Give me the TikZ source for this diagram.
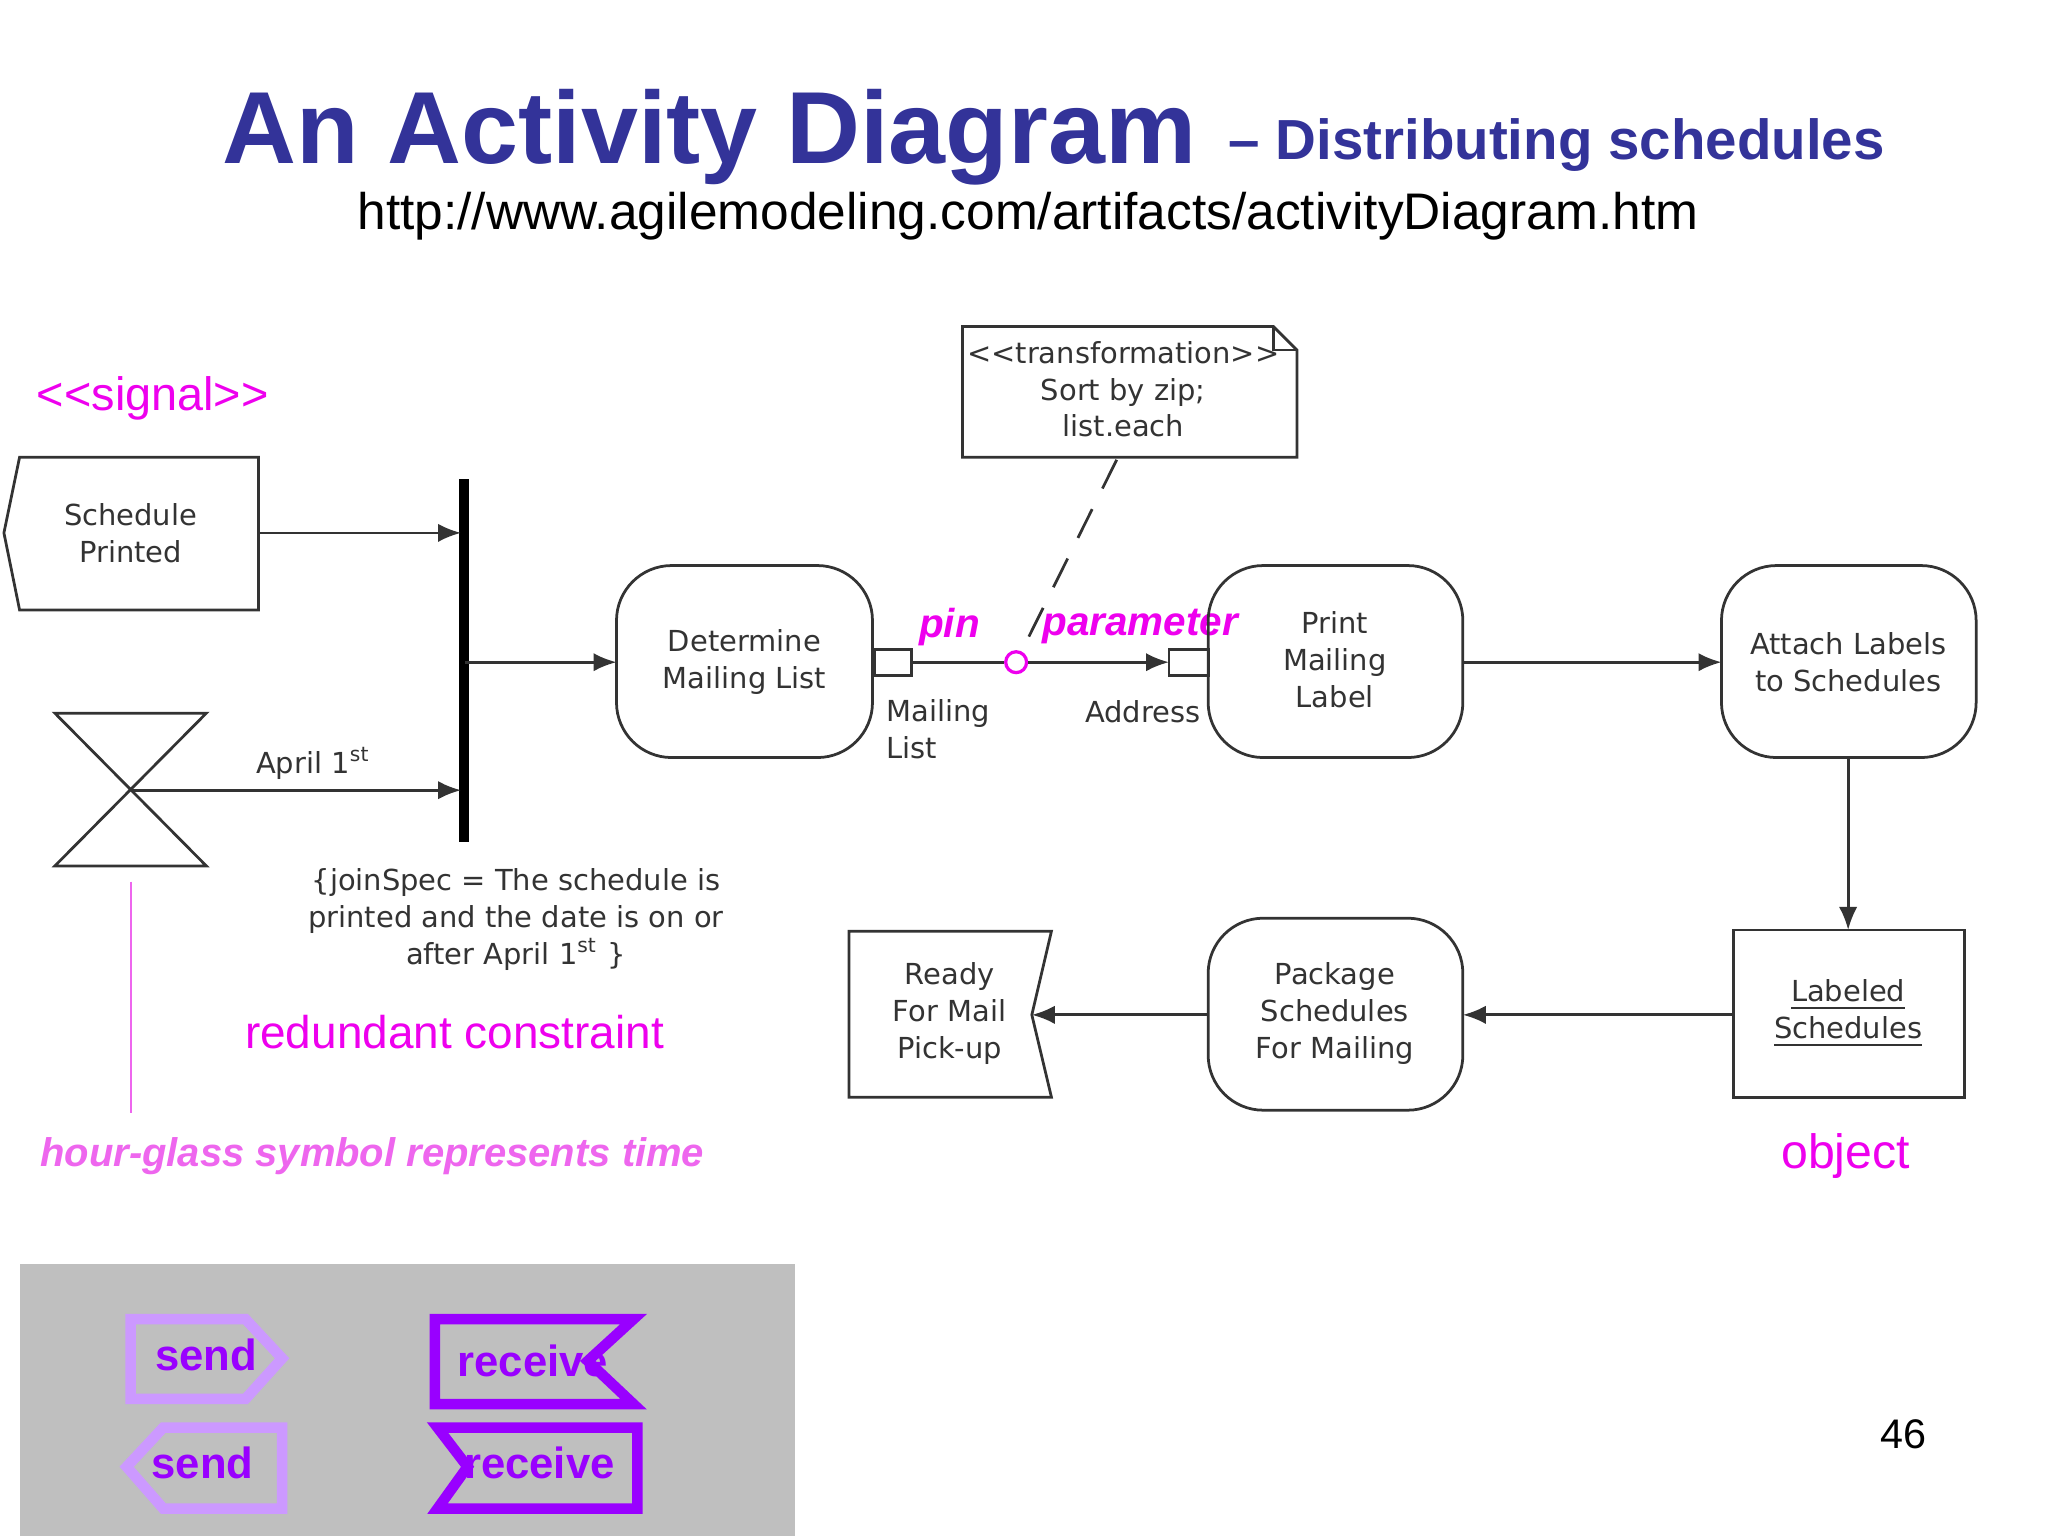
\documentclass[tikz,border=0pt]{standalone}
\usepackage{fontspec}
\setmainfont{Liberation Sans}
\newfontfamily\djfont{DejaVu Sans}
\usetikzlibrary{arrows.meta}
\definecolor{ttl}{HTML}{333399}
\definecolor{mag}{HTML}{EE00EE}
\definecolor{lmag}{HTML}{EE66EE}
\definecolor{lpur}{HTML}{CC99FF}
\definecolor{dpur}{HTML}{9900FF}
\begin{document}
\begin{tikzpicture}[x=0.01cm,y=-0.01cm,
  ln/.style={line width=0.6pt,black!80},
  arr/.style={ln,-{Latex[length=5pt,width=4pt]}},
  act/.style={ln,rounded corners=12pt},
  dt/.style={font=\djfont\fontsize{6.3}{8}\selectfont,text=black!80,align=center},
  ml/.style={font=\fontsize{9.5}{11}\selectfont,text=mag},
  pl/.style={text=dpur,font=\bfseries\fontsize{9.5}{11}\selectfont}]
\useasboundingbox (0,0) rectangle (1568,1176);
\fill[white] (0,0) rectangle (1568,1176);
% title
\node[anchor=base west,inner sep=0,text=ttl,font=\bfseries\fontsize{22.3}{24}\selectfont] (t1) at (170,125) {An Activity Diagram};
\node[anchor=base west,inner sep=0,text=ttl,font=\bfseries\fontsize{12.3}{13}\selectfont] (t2) at (940,122) {– Distributing schedules};
\node[anchor=base,inner sep=0,font=\fontsize{11.2}{12}\selectfont] (url) at (787,176) {http://www.agilemodeling.com/artifacts/activityDiagram.htm};
% signal
\node[ml,font=\fontsize{10.2}{12}\selectfont] (sig) at (117,305) {{<}{<}signal{>}{>}};
\draw[ln] (15,350) -- (198,350) -- (198,467) -- (15,467) -- (3,408) -- cycle;
\node[dt] (sp) at (100,408) {Schedule\\Printed};
\coordinate (spr) at (198,408);
% join bar
\draw[line width=2.2pt] (355,367) -- (355,645);
\coordinate (b1) at (353,408);
\coordinate (b2) at (353,605);
\coordinate (b3) at (356,507);
\draw[arr] (spr) -- (b1);
% hourglass
\draw[ln] (42,546) -- (158,546) -- (42,663) -- (158,663) -- cycle;
\coordinate (hg) at (100,605);
\draw[arr] (hg) -- (b2);
\node[dt,anchor=base] (ap) at (240,592) {April 1\textsuperscript{st}};
\draw[lmag,line width=0.4pt] (100,675) -- (100,852);
% join spec
\node[dt] (js) at (395,704) {\{joinSpec = The schedule is\\printed and the date is on or\\after April 1\textsuperscript{st} \}};
\node[ml,font=\fontsize{10}{12}\selectfont] (rc) at (348,790) {redundant constraint};
\node[text=lmag,font=\bfseries\itshape\fontsize{8.7}{11}\selectfont] (hgl) at (285,885) {hour-glass symbol represents time};
% Determine
\draw[act] (472,433) rectangle (668,580);
\node[dt] (det) at (570,507) {Determine\\Mailing List};
\coordinate (detl) at (472,507);
\draw[arr] (b3) -- (detl);
\draw[ln,fill=white] (670,497) rectangle (698,517);
\coordinate (p1) at (698,507);
\node[circle,draw=mag,line width=0.7pt,minimum size=0.16cm,inner sep=0] (cir) at (778,507) {};
\draw[ln] (p1) -- (cir);
\draw[ln,fill=white] (895,497) rectangle (925,517);
\coordinate (p2) at (895,507);
\draw[arr] (cir) -- (p2);
\node[dt,align=left,anchor=north west,inner sep=0] (mlab) at (678,535) {Mailing\\List};
\node[dt] (adr) at (875,545) {Address};
\node[ml,font=\bfseries\itshape\fontsize{8.8}{11}\selectfont] (pin) at (727,480) {pin};
\node[ml,font=\bfseries\itshape\fontsize{8.8}{11}\selectfont] (par) at (873,480) {parameter};
% note
\draw[ln] (737,250) -- (975,250) -- (993,268) -- (993,350) -- (737,350) -- cycle;
\draw[ln] (975,250) -- (975,268) -- (993,268);
\node[dt] (note) at (860,298) {{<}{<}transformation{>}{>}\\Sort by zip;\\list.each};
\coordinate (nb) at (855,352);
\draw[ln,dash pattern=on 7pt off 5pt] (nb) -- (cir);
% Print
\draw[act] (925,433) rectangle (1120,580);
\node[dt] (pr) at (1022,505) {Print\\Mailing\\Label};
\coordinate (prr) at (1120,507);
\draw[act] (1318,433) rectangle (1513,580);
\node[dt] (att) at (1415,507) {Attach Labels\\to Schedules};
\coordinate (attl) at (1318,507);
\draw[arr] (prr) -- (attl);
\coordinate (attb) at (1415,580);
% Labeled
\draw[ln] (1327,712) rectangle (1504,840);
\node[dt] (lab) at (1415,776) {\underline{Labeled}\\\underline{Schedules}};
\coordinate (labt) at (1415,712);
\draw[arr] (attb) -- (labt);
\coordinate (labl) at (1327,777);
\node[ml,font=\fontsize{10.5}{12}\selectfont] (obj) at (1413,885) {object};
% Package
\draw[act] (925,703) rectangle (1120,850);
\node[dt] (pkg) at (1022,776) {Package\\Schedules\\For Mailing};
\coordinate (pkr) at (1120,777);
\coordinate (pkl) at (925,777);
\draw[arr] (labl) -- (pkr);
% Ready
\draw[ln] (650,713) -- (805,713) -- (790,777) -- (805,840) -- (650,840) -- cycle;
\node[dt] (rdy) at (727,776) {Ready\\For Mail\\Pick-up};
\coordinate (rdr) at (790,777);
\draw[arr] (pkl) -- (rdr);
% panel
\fill[black!25] (15,968) rectangle (609,1176);
\draw[lpur,line width=2.3pt] (100,1010) -- (188,1010) -- (216,1040) -- (188,1071) -- (100,1071) -- cycle;
\node[pl] (s1) at (158,1037) {send};
\draw[lpur,line width=2.3pt] (216,1093) -- (125,1093) -- (97,1123) -- (125,1155) -- (216,1155) -- cycle;
\node[pl] (s2) at (155,1120) {send};
\draw[dpur,line width=2.3pt] (333,1010) -- (485,1010) -- (450,1042) -- (485,1075) -- (333,1075) -- cycle;
\node[pl] (r1) at (408,1042) {receive};
\draw[dpur,line width=2.3pt] (335,1093) -- (488,1093) -- (488,1155) -- (335,1155) -- (358,1123) -- cycle;
\node[pl] (r2) at (413,1120) {receive};
\node[font=\fontsize{9}{11}\selectfont] (pg) at (1457,1098) {46};
\end{tikzpicture}
\end{document}
